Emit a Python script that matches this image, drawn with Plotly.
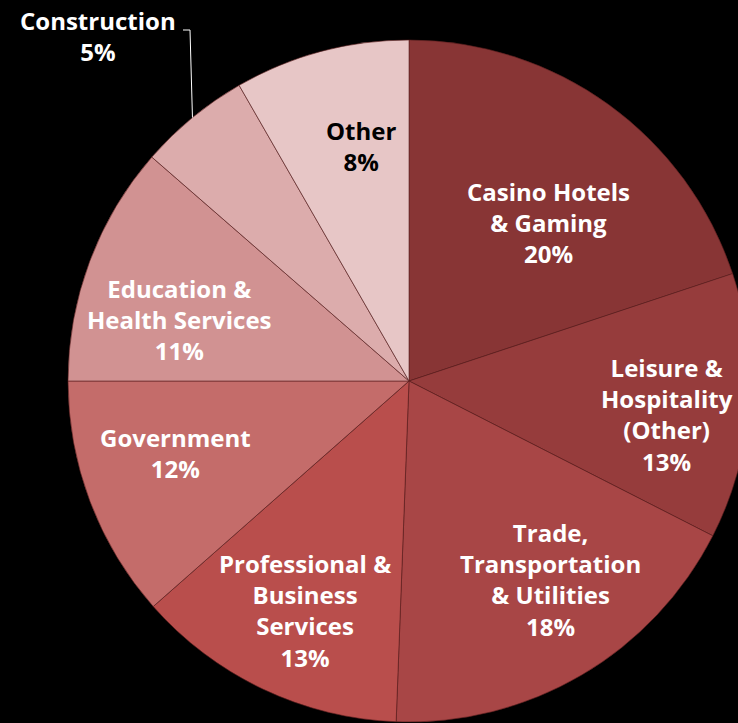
import math
import plotly.graph_objects as go

categories = ["Casino Hotels<br>& Gaming", "Leisure &<br>Hospitality<br>(Other)",
              "Trade,<br>Transportation<br>& Utilities", "Professional &<br>Business<br>Services",
              "Government", "Education &<br>Health Services", "Construction", "Other"]
values = [19.9, 12.6, 18.1, 12.9, 11.5, 11.4, 5.3, 8.3]
colors = ["#883535", "#963C3C", "#A84646", "#B94E4C", "#C46C6A", "#D19292", "#DCACAC", "#E7C6C6"]
text_colors = ["white"] * 6 + ["white", "black"]

W, H = 760, 723
CX, CY, R = 409, 381, 341

fig = go.Figure(go.Pie(
    values=values, labels=categories, sort=False, direction="clockwise", rotation=0,
    marker=dict(colors=colors, line=dict(color="rgba(90,30,30,0.6)", width=1)),
    textinfo="none", hoverinfo="label+percent", showlegend=False,
    domain=dict(x=[(CX - R) / W, (CX + R) / W], y=[1 - (CY + R) / H, 1 - (CY - R) / H]),
))

# label placement: angle shift (deg) and radius (px) relative to slice mid-angle
label_shift = [5.4, 3, -5, -1, 3.5, -5.6, 0, 3.4]
label_rad = [211, 260, 244, 252, 244, 237, 0, 240]

total = sum(values)
cum = 0
annotations = []
shapes = []
for i, v in enumerate(values):
    mid = (cum + v / 2) / total * 360
    cum += v
    pct = f"{int(v / total * 100 + 0.5)}%"
    txt = f"{categories[i]}<br>{pct}"
    if categories[i] == "Construction":
        ex = CX + R * math.sin(math.radians(mid))
        ey = CY - R * math.cos(math.radians(mid))
        tx, ty = 98, 36
        shapes.append(dict(type="path", xref="paper", yref="paper",
                           path=f"M {183/W} {1-30/H} L {190/W} {1-30/H} L {ex/W} {1-ey/H}",
                           line=dict(color="white", width=1)))
    else:
        a = math.radians(mid + label_shift[i])
        tx = CX + label_rad[i] * math.sin(a)
        ty = CY - label_rad[i] * math.cos(a)
    annotations.append(dict(x=tx / W, y=1 - ty / H, xref="paper", yref="paper", text=txt,
                            showarrow=False, xanchor="center", yanchor="middle",
                            font=dict(family="Open Sans", size=24, weight="bold",
                                      color=text_colors[i])))

fig.update_layout(width=W, height=H, margin=dict(l=0, r=0, t=0, b=0),
                  paper_bgcolor="black", plot_bgcolor="black",
                  annotations=annotations, shapes=shapes,
                  font=dict(family="Open Sans"))

fig.write_html("out.html", config={"displayModeBar": False},
               post_script="document.body.style.margin='0';document.body.style.overflow='hidden';document.body.style.background='black';")
